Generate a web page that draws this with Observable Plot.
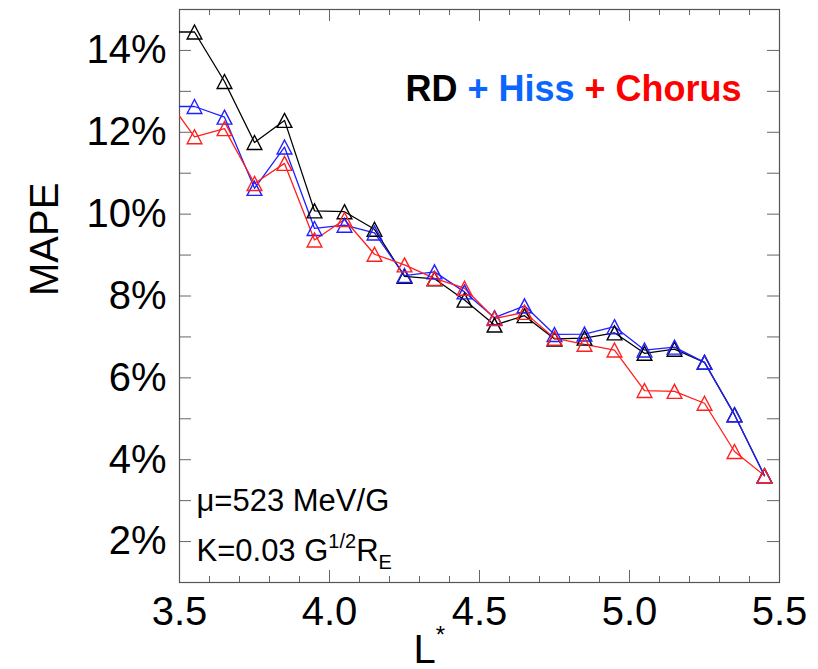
<!DOCTYPE html>
<html><head><meta charset="utf-8">
<script src="https://cdn.jsdelivr.net/npm/d3@7"></script>
<script src="https://cdn.jsdelivr.net/npm/@observablehq/plot@0.6"></script>
<style>html,body{margin:0;padding:0;background:#fff;} #chart svg{display:block;}</style>
</head><body><div id="chart"></div>
<script>
// ---- data ----
const lStar = [3.45, 3.55, 3.65, 3.75, 3.85, 3.95, 4.05, 4.15, 4.25, 4.35, 4.45, 4.55, 4.65, 4.75, 4.85, 4.95, 5.05, 5.15, 5.25, 5.35, 5.45];
const rd           = [14.45, 14.45, 13.24, 11.75, 12.29, 10.08, 10.06, 9.63, 8.48, 8.42, 7.90, 7.29, 7.52, 6.95, 6.97, 7.10, 6.60, 6.70, 6.38, 5.10, 3.61];
const rdHiss       = [12.63, 12.63, 12.37, 10.63, 11.64, 9.65, 9.73, 9.54, 8.50, 8.59, 8.10, 7.47, 7.76, 7.06, 7.07, 7.25, 6.68, 6.75, 6.38, 5.10, 3.61];
const rdHissChorus = [12.90, 11.89, 12.09, 10.75, 11.24, 9.37, 9.87, 9.02, 8.76, 8.43, 8.19, 7.45, 7.60, 6.97, 6.82, 6.68, 5.69, 5.67, 5.38, 4.20, 3.61];
const seriesNames = ["RD", "RD + Hiss", "RD + Hiss + Chorus"];
const titleParts = ["RD ", "+ Hiss ", "+ Chorus"];
const xTickLabels = [3.5, 4.0, 4.5, 5.0, 5.5];
const xMinorTicks = [3.6, 3.7, 3.8, 3.9, 4.1, 4.2, 4.3, 4.4, 4.6, 4.7, 4.8, 4.9, 5.1, 5.2, 5.3, 5.4];
const yTickLabels = [2, 4, 6, 8, 10, 12, 14];
const yMinorTicks = [3, 5, 7, 9, 11, 13];
const annotMu = "μ=523 MeV/G";
const annotK = ["K=0.03 G", "1/2", "R", "E"];
const xLabel = ["L", "*"];
const yLabel = "MAPE";

// ---- layout / style ----
const W = 818, H = 669, ML = 179, MR = 39, MT = 9, MB = 87;
const FW = W - ML - MR, FH = H - MT - MB;
const colors = ["#000000", "#1f1fff", "#ff1f1f"];
const titleColors = ["#000000", "#0a66ff", "#ff0000"];
const tickColor = "#666";

const rows = [];
[rd, rdHiss, rdHissChorus].forEach((vals, k) => {
  lStar.forEach((L, i) => rows.push({L, v: vals[i], s: seriesNames[k]}));
});
const dotRows = rows.filter(d => d.L >= 3.5 && d.L <= 5.5);

// IDL-like triangle centred on its bounding box
const tri = {draw(ctx, size) {
  const r = Math.sqrt(size / Math.PI);
  ctx.moveTo(0, -r);
  ctx.lineTo(1.05 * r, r);
  ctx.lineTo(-1.05 * r, r);
  ctx.closePath();
}};

const titleText = titleParts.join("");
const kText = annotK.join("");
const xLabelText = xLabel.join("");

const chart = Plot.plot({
  width: W, height: H,
  marginLeft: ML, marginRight: MR, marginTop: MT, marginBottom: MB,
  style: {fontFamily: "'Liberation Sans', Arial, sans-serif", background: "#fff", color: "#000"},
  x: {domain: [3.5, 5.5]},
  y: {domain: [1, 15]},
  color: {domain: seriesNames, range: colors},
  marks: [
    // ticks (inward, all four sides)
    Plot.tickX(xTickLabels, {x: d => d, insetTop: FH - 12, stroke: tickColor}),
    Plot.tickX(xTickLabels, {x: d => d, insetBottom: FH - 12, stroke: tickColor}),
    Plot.tickX(xMinorTicks, {x: d => d, insetTop: FH - 6, stroke: tickColor}),
    Plot.tickX(xMinorTicks, {x: d => d, insetBottom: FH - 6, stroke: tickColor}),
    Plot.tickY(yTickLabels.concat(yMinorTicks), {y: d => d, insetRight: FW - 12, stroke: tickColor}),
    Plot.tickY(yTickLabels.concat(yMinorTicks), {y: d => d, insetLeft: FW - 12, stroke: tickColor}),
    Plot.frame({stroke: "#555", strokeWidth: 1.2}),
    Plot.axisX({ticks: xTickLabels, tickSize: 0, tickPadding: 14, tickFormat: d3.format(".1f"), fontSize: 40, label: null}),
    Plot.axisY({ticks: yTickLabels, tickSize: 0, tickPadding: 13, tickFormat: d => d + "%", fontSize: 40, label: null}),
    // data
    Plot.line(rows, {x: "L", y: "v", z: "s", stroke: "s", strokeWidth: 1.3, clip: true}),
    Plot.dot(dotRows, {x: "L", y: "v", stroke: "s", symbol: tri, r: 7, strokeWidth: 1.4, fill: "none"}),
    // texts
    Plot.text([titleText], {text: d => d, frameAnchor: "top-right", textAnchor: "end", lineAnchor: "bottom", dx: -38, dy: 91, fontSize: 36, fontWeight: "bold"}),
    Plot.text([annotMu], {text: d => d, frameAnchor: "bottom-left", textAnchor: "start", lineAnchor: "bottom", dx: 17, dy: -72, fontSize: 31}),
    Plot.text([kText], {text: d => d, frameAnchor: "bottom-left", textAnchor: "start", lineAnchor: "bottom", dx: 17, dy: -22, fontSize: 31}),
    Plot.text([yLabel], {text: d => d, frameAnchor: "left", rotate: -90, dx: -134, fontSize: 40}),
    Plot.text([xLabelText], {text: d => d, frameAnchor: "bottom-left", textAnchor: "start", lineAnchor: "bottom", dx: 234, dy: 80, fontSize: 40})
  ]
});

// rich text (colours, super/subscripts)
const svg = d3.select(chart);
function findText(str) {
  return svg.selectAll("text").filter(function() { return this.textContent === str; });
}
const t = findText(titleText);
t.text(null);
titleParts.forEach((p, i) => t.append("tspan").attr("fill", titleColors[i]).text(p));

const k = findText(kText);
k.text(null);
k.append("tspan").text(annotK[0]);
k.append("tspan").attr("font-size", 20).attr("dy", -13).text(annotK[1]);
k.append("tspan").attr("font-size", 31).attr("dy", 13).text(annotK[2]);
k.append("tspan").attr("font-size", 20).attr("dy", 8).text(annotK[3]);

const xl = findText(xLabelText);
xl.text(null);
xl.append("tspan").text(xLabel[0]);
xl.append("tspan").attr("font-size", 24).attr("dy", -20).text(xLabel[1]);

document.getElementById("chart").appendChild(chart);
</script>
</body></html>
